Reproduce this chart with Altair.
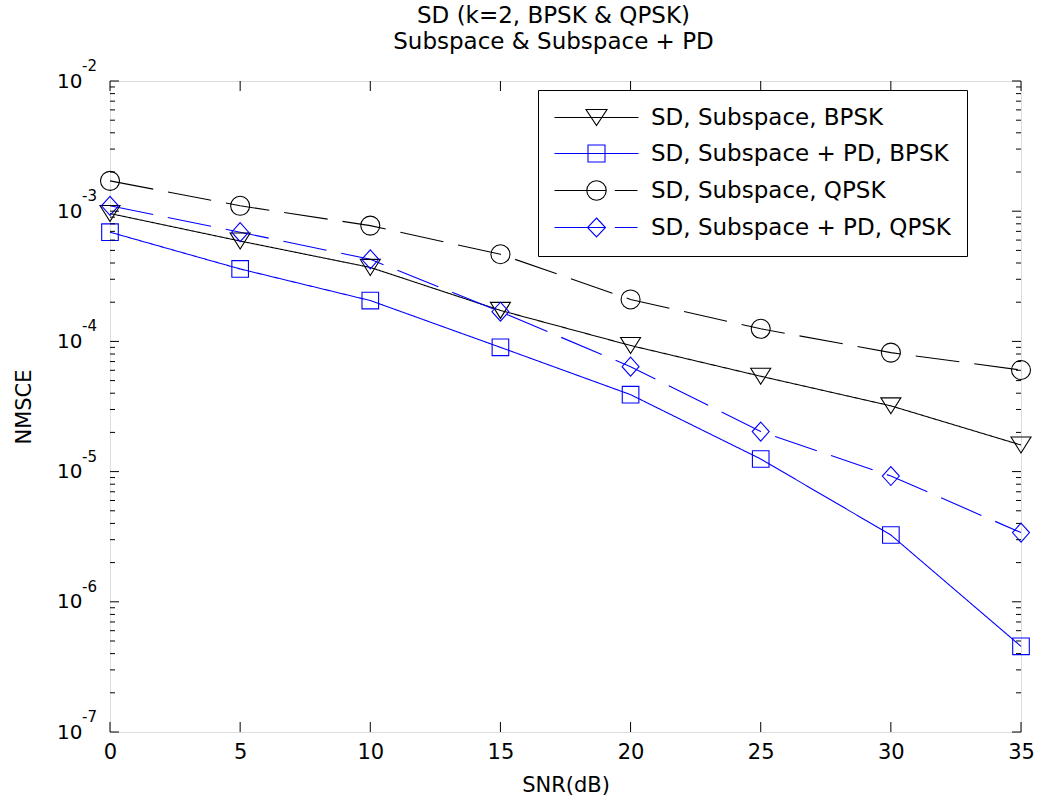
import altair as alt
import pandas as pd

# ---------------- data ----------------
snr = [0, 5, 10, 15, 20, 25, 30, 35]
bpsk_sub = [9.6e-4, 5.9e-4, 3.7e-4, 1.73e-4, 9.3e-5, 5.4e-5, 3.2e-5, 1.6e-5]
bpsk_pd = [6.9e-4, 3.6e-4, 2.06e-4, 9.0e-5, 3.9e-5, 1.25e-5, 3.26e-6, 4.55e-7]
qpsk_sub = [1.71e-3, 1.10e-3, 7.75e-4, 4.67e-4, 2.10e-4, 1.25e-4, 8.2e-5, 6.03e-5]
qpsk_pd = [1.10e-3, 6.9e-4, 4.27e-4, 1.69e-4, 6.4e-5, 2.03e-5, 9.25e-6, 3.4e-6]

names = ["SD, Subspace, BPSK", "SD, Subspace + PD, BPSK",
         "SD, Subspace, QPSK", "SD, Subspace + PD, QPSK"]
series_values = [bpsk_sub, bpsk_pd, qpsk_sub, qpsk_pd]

x_ticks = [0, 5, 10, 15, 20, 25, 30, 35]
y_major = [1e-7, 1e-6, 1e-5, 1e-4, 1e-3, 1e-2]
y_exp = ["-7", "-6", "-5", "-4", "-3", "-2"]
y_minor = [k * 10.0 ** d for d in range(-7, -2) for k in range(2, 10)]

title_lines = ["SD (k=2, BPSK & QPSK)", "Subspace & Subspace + PD"]
x_title = "SNR(dB)"
y_title = "NMSCE"

# ---------------- styles ----------------
W, H = 911, 651
FONT = "DejaVu Sans"
colors = ["#000000", "#0000ff", "#000000", "#0000ff"]
dashes = [[1, 0], [1, 0], [44, 15], [44, 15]]
marker_shapes = [
    "M-1,-0.8L1,-0.8L0,0.8Z",
    "M-0.83,-0.83H0.83V0.83H-0.83Z",
    "circle",
    "M0,-0.95L0.85,0L0,0.95L-0.85,0Z",
]
marker_sizes = [400, 400, 361, 400]
legend_paths = [
    "M-4.2,0H4.2M-1.05,-0.8L1.05,-0.8L0,0.8Z",
    "M-4.2,0H4.2M-0.85,-0.85H0.85V0.85H-0.85Z",
    "M-4.2,0H0.97M1.83,0H4.1M0.97,0A0.97,0.97,0,1,1,-0.97,0A0.97,0.97,0,1,1,0.97,0Z",
    "M-4.2,0H0.9M1.83,0H4.1M0,-0.95L0.9,0L0,0.95L-0.9,0Z",
]

rows = []
for n, vals in zip(names, series_values):
    for s, v in zip(snr, vals):
        rows.append({"series": n, "snr": s, "nmsce": v})
df = pd.DataFrame(rows)

xscale = alt.Scale(domain=[0, 35], nice=False, zero=False)
yscale = alt.Scale(type="log", domain=[1e-7, 1e-2], nice=False)

xenc = alt.X("snr:Q", scale=xscale,
             axis=alt.Axis(values=x_ticks, title=x_title, grid=False, ticks=False,
                           tickSize=0, domain=False, labelFont=FONT, labelFontSize=21,
                           labelColor="black", labelPadding=9, labelFlush=False,
                           titleFont=FONT, titleFontSize=21, titleFontWeight="normal",
                           titleColor="black", titlePadding=12))
yenc = alt.Y("nmsce:Q", scale=yscale,
             axis=alt.Axis(values=y_major, labelExpr="'10'", title=y_title, grid=False,
                           ticks=False, tickSize=0, domain=False, labelFont=FONT,
                           labelFontSize=20, labelColor="black", labelPadding=28,
                           labelBaseline="middle", labelFlush=False, titleFont=FONT,
                           titleFontSize=21, titleFontWeight="normal",
                           titleColor="black", titlePadding=22))

layers = []
for i, n in enumerate(names):
    base = alt.Chart(df).transform_filter(alt.datum.series == n)
    layers.append(base.mark_line(color=colors[i], strokeWidth=1.1,
                                 strokeDash=dashes[i]).encode(x=xenc, y=yenc))
for i, n in enumerate(names):
    base = alt.Chart(df).transform_filter(alt.datum.series == n)
    layers.append(base.mark_point(shape=marker_shapes[i], size=marker_sizes[i],
                                  color=colors[i], filled=False, opacity=1,
                                  strokeWidth=1.1).encode(x=xenc, y=yenc))

# legend layer (no marks drawn, only the legend)
leg = alt.Legend(orient="none", legendX=428, legendY=9, title=None,
                 labelFont=FONT, labelFontSize=23, labelColor="black", labelLimit=500,
                 padding=16, rowPadding=12, symbolSize=400, symbolStrokeWidth=1.1,
                 symbolOffset=31, labelOffset=43, strokeColor="black",
                 fillColor="white", cornerRadius=0)
legend_layer = alt.Chart(df).transform_filter("false").mark_point(
    filled=False, opacity=1, strokeWidth=1.1).encode(
    x=alt.X("snr:Q", scale=xscale),
    y=alt.Y("nmsce:Q", scale=yscale),
    color=alt.Color("series:N", scale=alt.Scale(domain=names, range=colors), legend=leg),
    shape=alt.Shape("series:N", scale=alt.Scale(domain=names, range=legend_paths), legend=leg),
)
layers.append(legend_layer)

# inward ticks (MATLAB style) on all four sides
ymaj_df = pd.DataFrame({"v": y_major, "e": y_exp})
ymin_df = pd.DataFrame({"v": y_minor})
xt_df = pd.DataFrame({"t": x_ticks})
yv = alt.Y("v:Q", scale=yscale)
xt = alt.X("t:Q", scale=xscale)
tick_style = dict(color="black", strokeWidth=1)
layers += [
    alt.Chart(ymaj_df).mark_rule(**tick_style).encode(y=yv, x=alt.value(0), x2=alt.value(9)),
    alt.Chart(ymaj_df).mark_rule(**tick_style).encode(y=yv, x=alt.value(W), x2=alt.value(W - 9)),
    alt.Chart(ymin_df).mark_rule(**tick_style).encode(y=yv, x=alt.value(0), x2=alt.value(5)),
    alt.Chart(ymin_df).mark_rule(**tick_style).encode(y=yv, x=alt.value(W), x2=alt.value(W - 5)),
    alt.Chart(xt_df).mark_rule(**tick_style).encode(x=xt, y=alt.value(H), y2=alt.value(H - 10)),
    alt.Chart(xt_df).mark_rule(**tick_style).encode(x=xt, y=alt.value(0), y2=alt.value(10)),
    alt.Chart(ymaj_df).mark_text(align="left", baseline="alphabetic", dy=-10,
                                 font=FONT, fontSize=15, color="black").encode(
        y=yv, x=alt.value(-28), text="e:N"),
]

chart = alt.layer(*layers).properties(
    width=W, height=H,
    title=alt.TitleParams(title_lines, font=FONT, fontSize=23, fontWeight="normal",
                          color="black", anchor="middle", lineHeight=26, dx=-12,
                          offset=5),
    autosize=alt.AutoSizeParams(type="none"),
    padding={"left": 110, "top": 81, "right": 20, "bottom": 73},
).configure_view(stroke="black", strokeWidth=1).configure(background="white")

chart.save("out.html", embed_options={"renderer": "svg", "actions": False})
